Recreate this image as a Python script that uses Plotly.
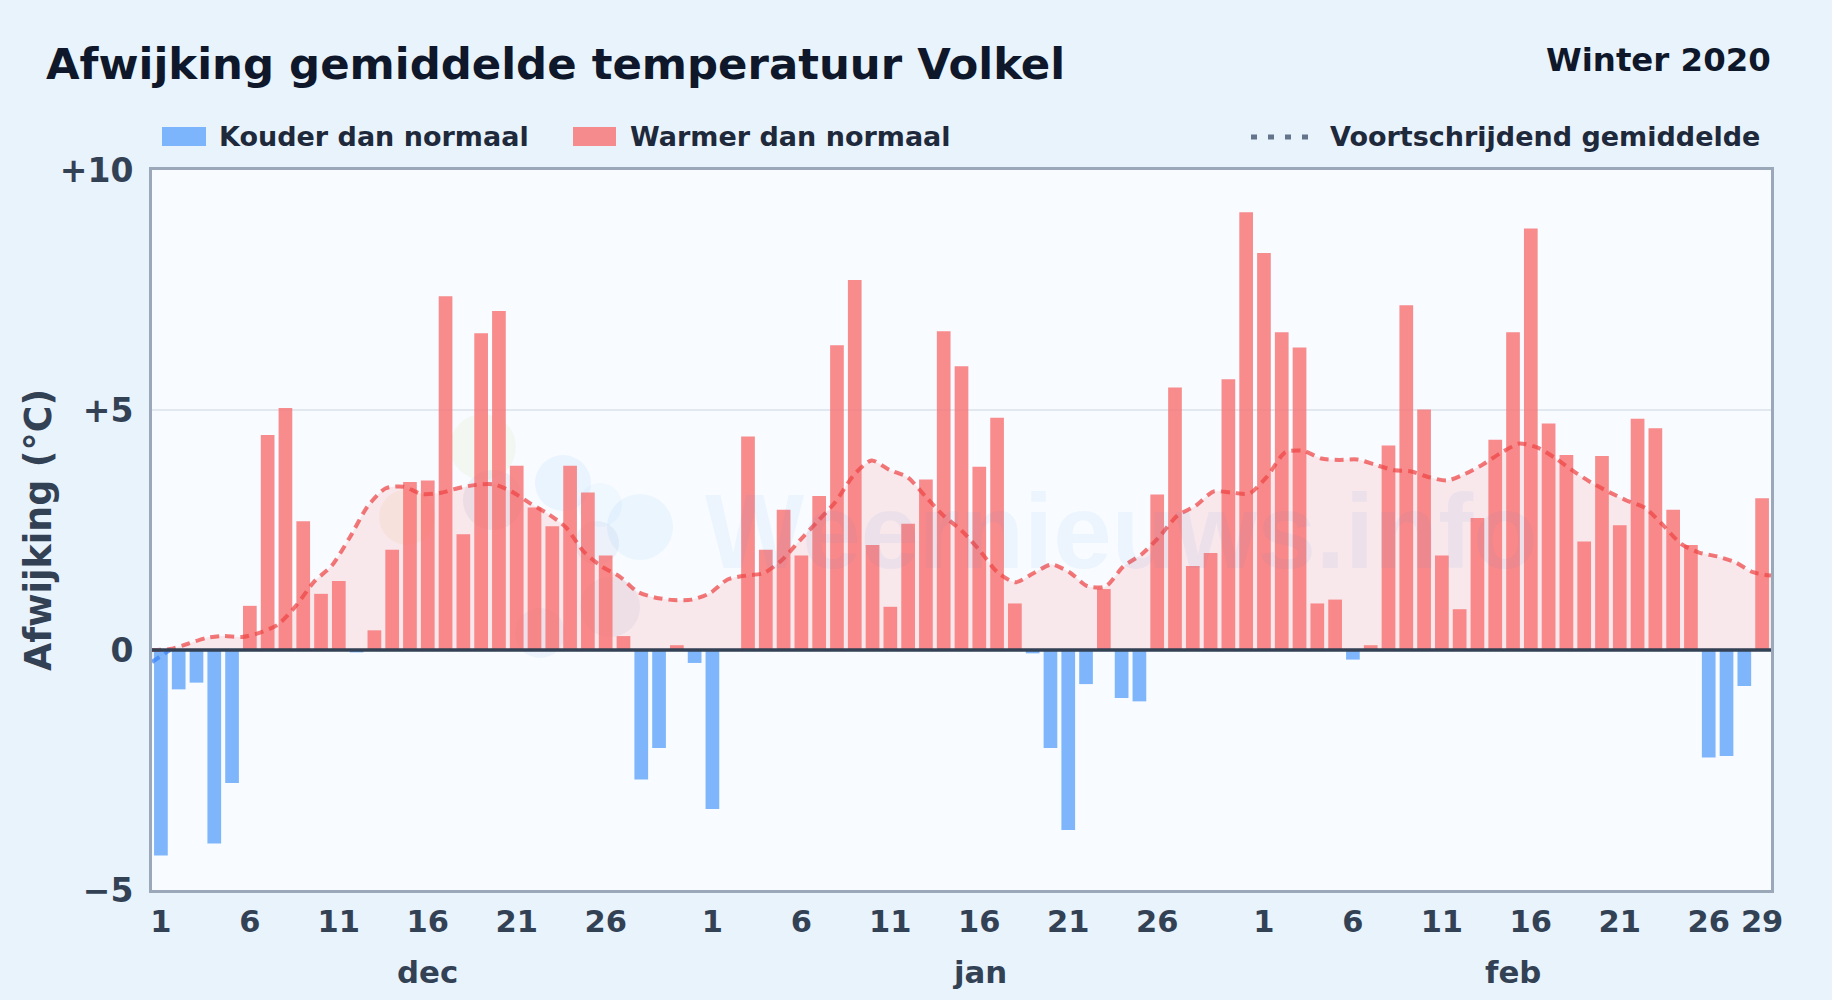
import plotly.graph_objects as go

dec_values = [-4.28, -0.82, -0.68, -4.03, -2.77, 0.92, 4.48, 5.04, 2.68, 1.17, 1.44, -0.05, 0.41, 2.09, 3.5, 3.53,
              7.37, 2.41, 6.6, 7.06, 3.84, 2.97, 2.58, 3.84, 3.28, 1.97, 0.29, -2.7, -2.04, 0.1, -0.27]
jan_values = [-3.31, 0, 4.45, 2.09, 2.92, 1.97, 3.21, 6.35, 7.71, 2.19, 0.9, 2.63, 3.55, 6.64, 5.91, 3.82,
              4.84, 0.97, -0.07, -2.04, -3.75, -0.71, 1.27, -1.0, -1.07, 3.24, 5.47, 1.75, 2.02, 5.64, 9.12]
feb_values = [8.27, 6.62, 6.3, 0.97, 1.05, -0.2, 0.1, 4.26, 7.18, 5.01, 1.97, 0.85, 2.75, 4.38, 6.62, 8.78,
              4.72, 4.06, 2.26, 4.04, 2.6, 4.82, 4.62, 2.92, 2.19, -2.24, -2.21, -0.75, 3.16]
# the moving-average area runs edge to edge of the plot, one reading per day
dec_mean = [-0.25, 0.02, 0.13, 0.25, 0.29, 0.27, 0.36, 0.53, 0.92, 1.42, 1.76, 2.35, 3.0, 3.37, 3.4, 3.25,
            3.27, 3.37, 3.44, 3.45, 3.3, 3.06, 2.84, 2.56, 2.05, 1.74, 1.53, 1.21, 1.09, 1.04, 1.05]
jan_mean = [1.18, 1.47, 1.55, 1.6, 1.87, 2.28, 2.68, 3.09, 3.64, 3.95, 3.75, 3.6, 3.2, 2.8, 2.49, 2.08,
            1.62, 1.41, 1.6, 1.78, 1.62, 1.33, 1.32, 1.74, 1.99, 2.36, 2.8, 3.0, 3.3, 3.28, 3.26]
feb_mean = [3.62, 4.12, 4.15, 3.99, 3.96, 3.97, 3.86, 3.75, 3.72, 3.6, 3.53, 3.67, 3.87, 4.11, 4.3, 4.22,
            4.0, 3.73, 3.49, 3.29, 3.11, 2.96, 2.6, 2.21, 2.03, 1.95, 1.83, 1.62, 1.55]
months = ["dec", "jan", "feb"]
month_center_day = [16, 16, 15]
y_ticks = [-5, 0, 5, 10]
y_tick_labels = ["\u22125", "0", "+5", "+10"]
legend_labels = ["Kouder dan normaal", "Warmer dan normaal", "Voortschrijdend gemiddelde"]

TEXT = "#334155"; DARK = "#0f172a"; LEG = "#1e293b"; BORDER = "#9aa8ba"
FONT = "DejaVu Sans"
L, R, T, B = 152, 61, 170, 110
W, H = 1832, 1000
px = lambda v: (v - L) / (W - L - R)
py = lambda v: 1 - (v - T) / (H - T - B)

values = dec_values + jan_values + feb_values
mean = dec_mean + jan_mean + feb_mean
lengths = [len(dec_values), len(jan_values), len(feb_values)]
cats = [f"{d} {m}" for m, n in zip(months, lengths) for d in range(1, n + 1)]
positions = list(range(len(mean)))
tickvals, ticktext = [], []
for m, n in zip(months, lengths):
    days = [d for d in range(1, n + 1) if d % 5 == 1 and d <= 26]
    if m == "feb":
        days.append(n)
    tickvals += [f"{d} {m}" for d in days]
    ticktext += [str(d) for d in days]

fig = go.Figure()
fig.add_bar(x=cats, y=[v if v < 0 else None for v in values], name=legend_labels[0],
            marker=dict(color="rgba(96,165,250,0.8)", line_width=0), showlegend=False)
fig.add_bar(x=cats, y=[v if v >= 0 else None for v in values], name=legend_labels[1],
            marker=dict(color="rgba(248,113,113,0.8)", line_width=0), showlegend=False)
fig.add_scatter(x=positions, y=[max(v, 0) for v in mean], xaxis="x2", mode="lines", name=legend_labels[2], showlegend=False,
                line=dict(color="rgba(239,68,68,0.72)", width=4, dash="9px,6px", shape="spline", smoothing=0.7),
                fill="tozeroy", fillcolor="rgba(248,113,113,0.14)")
fig.add_scatter(x=positions[:2], y=[min(v, 0) for v in mean[:2]], xaxis="x2", mode="lines", name=legend_labels[2] + " (koud)", showlegend=False,
                line=dict(color="rgba(59,130,246,0.72)", width=4, dash="9px,6px", shape="spline", smoothing=0.7),
                fill="tozeroy", fillcolor="rgba(96,165,250,0.14)")

def note(text, x, y, size, color, xanchor="left", family=FONT, **kw):
    return dict(text=f"<b>{text}</b>", x=px(x), y=py(y), xref="paper", yref="paper", xanchor=xanchor, yanchor="middle",
                showarrow=False, font=dict(family=family, size=size, color=color), **kw)

annotations = [
    note("Afwijking gemiddelde temperatuur Volkel", 44, 64, 43.4, DARK),
    note("Winter 2020", 1773, 60, 32.4, DARK, "right"),
    note(legend_labels[0], 217, 137, 27, LEG),
    note(legend_labels[1], 628, 137, 27, LEG),
    note(legend_labels[2], 1328, 137, 27, LEG),
    note("Afwijking (\u00b0C)", 38, 530, 36.4, TEXT, "center", textangle=-90),
    note("Weernieuws.info", 1121, 531, 105, "rgba(59,130,246,0.06)", "center", family="Liberation Sans"),
]
for m, d in zip(months, month_center_day):
    annotations.append(dict(text=f"<b>{m}</b>", x=f"{d} {m}", y=py(972), xref="x", yref="paper", xanchor="center", yanchor="middle",
                            showarrow=False, font=dict(family=FONT, size=30.8, color=TEXT)))

def swatch(x0, x1, y0, y1, color):
    return dict(type="rect", xref="paper", yref="paper", x0=px(x0), x1=px(x1), y0=py(y0), y1=py(y1),
                fillcolor=color, line_width=0, layer="above")

def blob(cx, cy, r, color):
    return dict(type="circle", xref="paper", yref="paper", x0=px(cx - r), x1=px(cx + r), y0=py(cy - r), y1=py(cy + r),
                fillcolor=color, line_width=0, layer="below")

shapes = [
    blob(483, 447, 33, "rgba(200,230,150,0.13)"),
    blob(407, 517, 28, "rgba(250,200,120,0.12)"),
    blob(563, 483, 28, "rgba(140,200,250,0.12)"),
    blob(600, 505, 22, "rgba(140,200,250,0.08)"),
    blob(640, 527, 33, "rgba(140,200,250,0.11)"),
    blob(493, 500, 30, "rgba(100,120,190,0.09)"),
    blob(597, 543, 22, "rgba(100,130,190,0.08)"),
    blob(610, 607, 30, "rgba(100,130,190,0.07)"),
    blob(540, 633, 25, "rgba(120,170,230,0.09)"),
    swatch(162, 206, 127, 146, "rgba(96,165,250,0.8)"),
    swatch(573, 616, 127, 146, "rgba(248,113,113,0.8)"),
    dict(type="line", xref="paper", yref="paper", x0=px(1251), x1=px(1308), y0=py(137), y1=py(137),
         line=dict(color="#64748b", width=5, dash="6px,11px")),
    dict(type="line", xref="paper", yref="y", x0=0, x1=1, y0=0, y1=0, line=dict(color=TEXT, width=3.5), layer="above"),
]

fig.update_layout(
    width=W, height=H, margin=dict(l=L, r=R, t=T, b=B, pad=0),
    paper_bgcolor="#e8f3fc", plot_bgcolor="#f8fbff",
    barmode="overlay", bargap=0.23, showlegend=False,
    annotations=annotations, shapes=shapes,
    font=dict(family=FONT, color=TEXT),
    xaxis2=dict(overlaying="x", range=[positions[0], positions[-1]], visible=False),
)
fig.update_layout(xaxis=dict(type="category", categoryorder="array", categoryarray=cats, tickmode="array", tickvals=tickvals,
                 ticktext=[f"<b>{t}</b>" for t in ticktext], tickfont=dict(size=30.5, color=TEXT),
                 ticks="outside", ticklen=2, tickcolor="rgba(0,0,0,0)", tickangle=0,
                 showgrid=False, showline=True, mirror=True, linecolor=BORDER, linewidth=3, automargin=False))
fig.update_layout(yaxis=dict(range=[-5, 10], tickmode="array", tickvals=y_ticks, ticktext=[f"<b>{t}</b>" for t in y_tick_labels],
                 tickfont=dict(size=33, color=TEXT), ticks="outside", ticklen=9, tickcolor="rgba(0,0,0,0)",
                 showgrid=True, gridcolor="#e2e8f0", gridwidth=1.5,
                 zeroline=False, showline=True, mirror=True, linecolor=BORDER, linewidth=3, automargin=False))

fig.write_html("out.html", config=dict(displayModeBar=False),
               post_script="document.body.style.margin='0';document.body.style.background='#e8f3fc';document.body.style.overflow='hidden';")
